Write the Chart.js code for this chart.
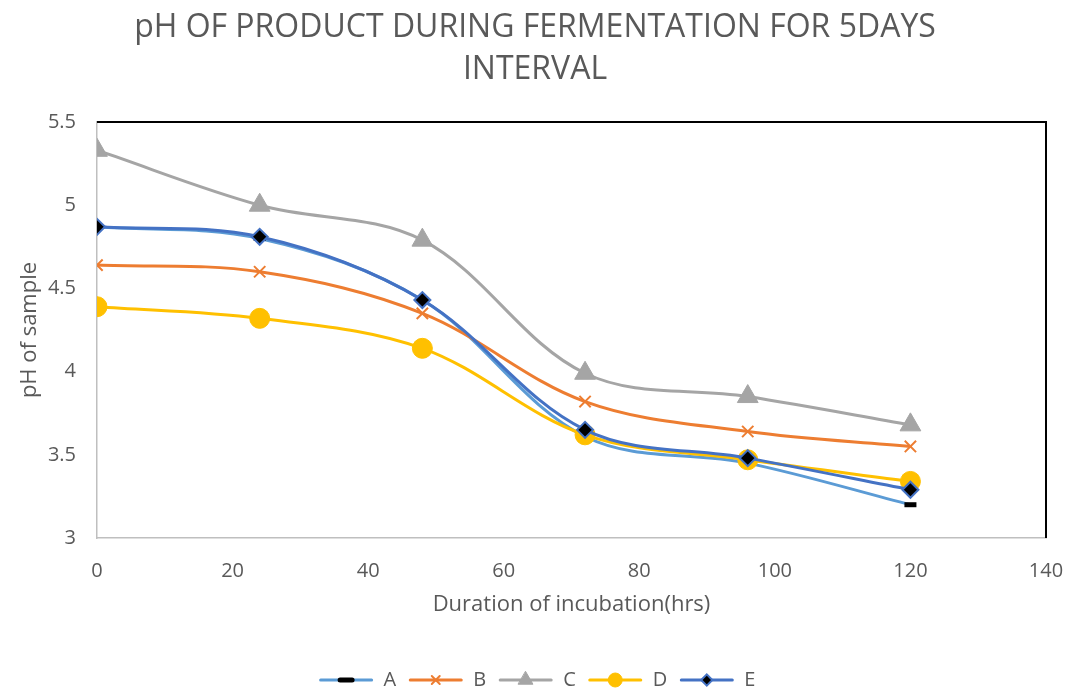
<!DOCTYPE html>
<html>
<head>
<meta charset="utf-8">
<script src="https://cdn.jsdelivr.net/npm/chart.js@4/dist/chart.umd.min.js"></script>
<style>
  html, body { margin: 0; padding: 0; background: #fff; }
  #wrap { width: 1072px; height: 692px; }
</style>
</head>
<body>
<div id="wrap"><canvas id="grafica"></canvas></div>
<script>
// datos
const horas = [0, 24, 48, 72, 96, 120];
const serieA = [4.87, 4.80, 4.43, 3.61, 3.45, 3.20];
const serieB = [4.64, 4.60, 4.35, 3.82, 3.64, 3.55];
const serieC = [5.33, 5.00, 4.79, 3.99, 3.85, 3.68];
const serieD = [4.39, 4.32, 4.14, 3.62, 3.47, 3.34];
const serieE = [4.87, 4.81, 4.43, 3.65, 3.48, 3.29];
const nombres = ['A', 'B', 'C', 'D', 'E'];

const gris = '#595959';
const fuente = '"Open Sans", "Noto Sans", sans-serif';

function puntos(valores) {
  return horas.map((h, i) => ({ x: h, y: valores[i] }));
}

const datasets = [
  { label: nombres[0], data: puntos(serieA), borderColor: '#5B9BD5', order: 4,
    pointStyle: 'line', pointRadius: 6, pointBorderColor: '#000', pointBorderWidth: 5, pointBackgroundColor: '#000' },
  { label: nombres[1], data: puntos(serieB), borderColor: '#ED7D31', order: 3,
    pointStyle: 'crossRot', pointRadius: 8, pointBorderColor: '#ED7D31', pointBorderWidth: 2, pointBackgroundColor: '#ED7D31' },
  { label: nombres[2], data: puntos(serieC), borderColor: '#A5A5A5', order: 2,
    pointStyle: 'triangle', pointRadius: 12, pointBorderColor: '#A5A5A5', pointBorderWidth: 1, pointBackgroundColor: '#A5A5A5' },
  { label: nombres[3], data: puntos(serieD), borderColor: '#FFC000', order: 1,
    pointStyle: 'circle', pointRadius: 10, pointBorderColor: '#FFC000', pointBorderWidth: 1, pointBackgroundColor: '#FFC000' },
  { label: nombres[4], data: puntos(serieE), borderColor: '#4472C4', order: 0,
    pointStyle: 'rectRot', pointRadius: 8, pointBorderColor: '#4472C4', pointBorderWidth: 2, pointBackgroundColor: '#000' }
];
datasets.forEach(d => {
  d.borderWidth = 3;
  d.tension = 0.35;
  d.fill = false;
  d.pointHoverRadius = d.pointRadius;
});

// borde negro arriba y a la derecha del area de trazado
const bordeArea = {
  id: 'bordeArea',
  beforeDatasetsDraw(chart) {
    const { ctx, chartArea: a } = chart;
    ctx.save();
    ctx.strokeStyle = '#000';
    ctx.lineWidth = 2;
    ctx.beginPath();
    ctx.moveTo(a.left, a.top);
    ctx.lineTo(a.right, a.top);
    ctx.lineTo(a.right, a.bottom);
    ctx.stroke();
    ctx.restore();
  }
};

// leyenda estilo Excel: linea con marcador
const LARGO_LINEA = 55;
const leyendaLinea = {
  id: 'leyendaLinea',
  afterDraw(chart) {
    const leg = chart.legend;
    if (!leg || !leg.legendHitBoxes) return;
    const ctx = chart.ctx;
    const bw = leg.options.labels.boxWidth;
    leg.legendHitBoxes.forEach((box, i) => {
      const ds = chart.data.datasets[i];
      const cy = box.top + box.height / 2;
      const x0 = box.left + bw - LARGO_LINEA;
      ctx.save();
      ctx.strokeStyle = ds.borderColor;
      ctx.lineWidth = 3;
      ctx.lineCap = 'round';
      ctx.beginPath();
      ctx.moveTo(x0 + 2, cy);
      ctx.lineTo(x0 + LARGO_LINEA - 2, cy);
      ctx.stroke();
      ctx.strokeStyle = ds.pointBorderColor;
      ctx.fillStyle = ds.pointBackgroundColor;
      ctx.lineWidth = ds.pointBorderWidth;
      Chart.helpers.drawPoint(ctx, {
        pointStyle: ds.pointStyle,
        radius: ds.pointStyle === 'line' ? 6 : ds.pointRadius * 0.7,
        rotation: 0,
        borderWidth: ds.pointBorderWidth
      }, x0 + LARGO_LINEA / 2, cy);
      ctx.restore();
    });
  }
};

new Chart(document.getElementById('grafica'), {
  type: 'line',
  data: { datasets },
  plugins: [bordeArea, leyendaLinea],
  options: {
    responsive: true,
    maintainAspectRatio: false,
    animation: false,
    layout: { padding: { top: 0, right: 14, bottom: -8, left: 12 } },
    plugins: {
      title: {
        display: true,
        text: ['pH OF PRODUCT DURING FERMENTATION FOR 5DAYS', 'INTERVAL'],
        color: gris,
        font: { family: fuente, size: 32, weight: 'normal', lineHeight: '42px' },
        padding: { top: 7, bottom: 31 }
      },
      legend: {
        position: 'bottom',
        labels: {
          color: gris,
          font: { family: fuente, size: 20 },
          boxWidth: 59,
          boxHeight: 12,
          padding: 8,
          generateLabels: (chart) => chart.data.datasets.map((ds, i) => ({
            text: ds.label,
            fillStyle: 'rgba(0,0,0,0)',
            strokeStyle: 'rgba(0,0,0,0)',
            lineWidth: 0,
            fontColor: gris,
            hidden: false,
            datasetIndex: i
          }))
        }
      },
      tooltip: { enabled: false }
    },
    scales: {
      x: {
        type: 'linear',
        min: 0,
        max: 140,
        ticks: { stepSize: 20, color: gris, font: { family: fuente, size: 20 }, padding: 21 },
        grid: { display: false, drawTicks: false },
        border: { display: true, color: '#BFBFBF', width: 1.5 },
        title: {
          display: true,
          text: 'Duration of incubation(hrs)',
          color: gris,
          font: { family: fuente, size: 22 },
          padding: { top: 0, bottom: 44 }
        },
        afterFit: (s) => { s.height = 124; s.paddingLeft = 0; s.paddingRight = 26; }
      },
      y: {
        min: 3,
        max: 5.5,
        ticks: {
          stepSize: 0.5, color: gris, font: { family: fuente, size: 20 }, padding: 21,
          callback: (v) => String(v)
        },
        grid: { display: false, drawTicks: false },
        border: { display: true, color: '#BFBFBF', width: 1.5 },
        title: {
          display: true,
          text: 'pH of sample',
          color: gris,
          font: { family: fuente, size: 22 },
          padding: { top: 5, bottom: 0 }
        },
        afterFit: (s) => { s.width = 85; }
      }
    }
  }
});
</script>
</body>
</html>
